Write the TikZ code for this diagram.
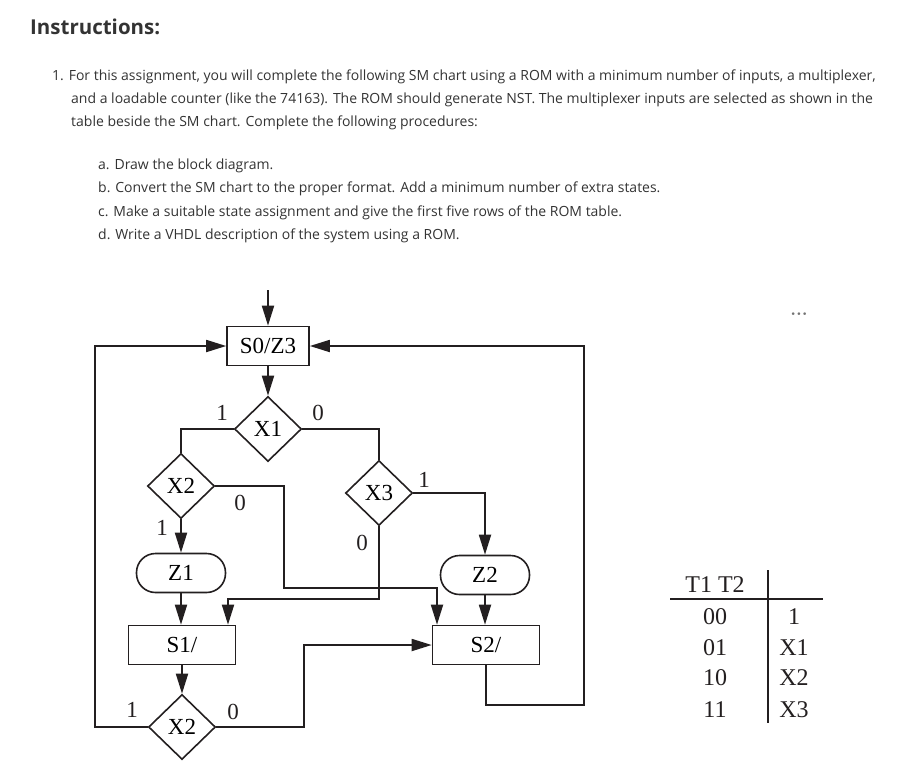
\documentclass[tikz,border=0pt]{standalone}
\usepackage{fontspec}
\setmainfont{Open Sans}
\newfontfamily\tms{Liberation Serif}
\newfontfamily\djv{DejaVu Sans}
\usetikzlibrary{arrows.meta,shapes.geometric}
\definecolor{ink}{HTML}{231F20}
\definecolor{txt}{HTML}{333333}
\begin{document}
\begin{tikzpicture}[x=1pt,y=-1pt,
  every node/.style={inner sep=0pt},
  line/.style={draw=ink,line width=1.8pt},
  arr/.style={line,-{Triangle[length=20pt,width=12pt]}},
  statebox/.style={draw=ink,line width=1.6pt,rectangle,minimum height=39pt,font=\tms\fontsize{23}{23}\selectfont},
  condbox/.style={draw=ink,line width=1.6pt,rectangle,rounded corners=19pt,minimum width=89pt,minimum height=39pt,font=\tms\fontsize{23}{23}\selectfont},
  dec/.style={draw=ink,line width=1.6pt,diamond,minimum width=67pt,minimum height=65pt,font=\tms\fontsize{23}{23}\selectfont},
  lbl/.style={font=\tms\fontsize{23}{23}\selectfont,text=ink},
  tbl/.style={font=\tms\fontsize{24}{24}\selectfont,text=ink},
  instr/.style={anchor=west,text=txt,font=\fontsize{14}{16}\selectfont},
]
\useasboundingbox (0,0) rectangle (907,774);
% instructions
\node[anchor=west,text=txt,font=\bfseries\fontsize{20.5}{24}\selectfont] (title) at (30,27) {Instructions:};
\node[instr] (l1) at (52,77) {1. For this assignment, you will complete the following SM chart using a ROM with a minimum number of inputs, a multiplexer,};
\node[instr] (l2) at (71,100) {and a loadable counter (like the 74163). The ROM should generate NST. The multiplexer inputs are selected as shown in the};
\node[instr] (l3) at (71,123) {table beside the SM chart. Complete the following procedures:};
\node[instr] (ia) at (98,166) {a. Draw the block diagram.};
\node[instr] (ib) at (98,189) {b. Convert the SM chart to the proper format. Add a minimum number of extra states.};
\node[instr] (ic) at (98,213) {c. Make a suitable state assignment and give the first five rows of the ROM table.};
\node[instr] (id) at (98,236) {d. Write a VHDL description of the system using a ROM.};
\node[text=gray!90!black,font=\djv\fontsize{9}{9}\selectfont] (dots) at (799,315) {•\kern0.5pt•\kern0.5pt•};

% chart nodes
\node[statebox,minimum width=82pt] (s0) at (268,346) {S0/Z3};
\node[dec] (x1) at (268,429) {X1};
\node[dec] (x2) at (181,486) {X2};
\node[dec] (x3) at (379,493) {X3};
\node[condbox] (z1) at (181,573) {Z1};
\node[condbox] (z2) at (485,575) {Z2};
\node[statebox,minimum width=107pt] (s1) at (182,645) {S1/};
\node[statebox,minimum width=107pt] (s2) at (486,645) {S2/};
\node[dec] (x2b) at (182,727) {X2};

\coordinate (start) at (268,290);
\coordinate (c1) at (284,588);
\coordinate (c2) at (379,599);
\coordinate (c3) at (95,727);
\coordinate (c4) at (304,727);
\coordinate (c5) at (584,705);

% connectors
\draw[arr] (start) -- (s0.north);
\draw[arr] (s0.south) -- (x1.north);
\draw[line] (x1.west) -| (x2.north);
\draw[line] (x1.east) -| (x3.north);
\draw[arr] (x2.south) -- (z1.north);
\draw[arr] (x2.east) -| (c1) -| ([xshift=-49pt]s2.north);
\draw[arr] (x3.east) -| (z2.north);
\draw[arr] (x3.south) -- (c2) -| ([xshift=46pt]s1.north);
\draw[arr] (z1.south) -- (z1.south |- s1.north);
\draw[arr] (z2.south) -- (z2.south |- s2.north);
\draw[arr] (s1.south) -- (x2b.north);
\draw[arr] (x2b.west) -- (c3) |- (s0.west);
\draw[arr] (x2b.east) -- (c4) |- (s2.west);
\draw[arr] (s2.south) |- (c5) |- (s0.east);

% branch labels
\node[lbl] (a1) at (222,413) {1};
\node[lbl] (a2) at (318,413) {0};
\node[lbl] (a3) at (240,503) {0};
\node[lbl] (a4) at (162,528) {1};
\node[lbl] (a5) at (424,480) {1};
\node[lbl] (a6) at (362,543) {0};
\node[lbl] (a7) at (132,710) {1};
\node[lbl] (a8) at (233,712) {0};

% table
\node[tbl] (th) at (715,585) {T1 T2};
\node[tbl] (r1) at (715,617) {00};
\node[tbl] (r2) at (715,648) {01};
\node[tbl] (r3) at (715,678) {10};
\node[tbl] (r4) at (715,710) {11};
\node[tbl] (v1) at (794,617) {1};
\node[tbl] (v2) at (794,648) {X1};
\node[tbl] (v3) at (794,678) {X2};
\node[tbl] (v4) at (794,710) {X3};
\coordinate (tv1) at (768,570);
\coordinate (tv2) at (768,723);
\coordinate (th1) at (670,599);
\coordinate (th2) at (823,599);
\draw[line,line width=1.6pt] (tv1) -- (tv2);
\draw[line,line width=1.6pt] (th1) -- (th2);
\end{tikzpicture}
\end{document}
